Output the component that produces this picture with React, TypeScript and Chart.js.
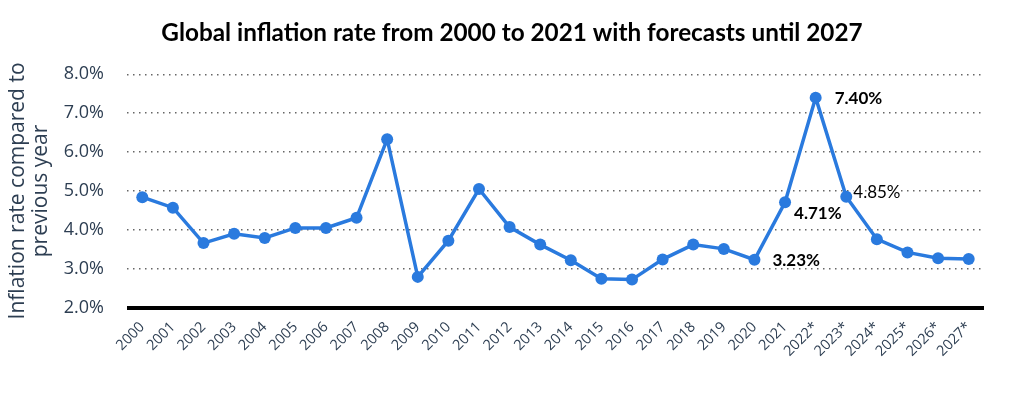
import React, { useEffect, useRef } from 'react';
import { Chart, registerables } from 'chart.js';

Chart.register(...registerables);

const TITLE = 'Global inflation rate from 2000 to 2021 with forecasts until 2027';
const Y_TITLE = ['Inflation rate compared to', 'previous year'];

const years = [
  '2000', '2001', '2002', '2003', '2004', '2005', '2006', '2007', '2008', '2009',
  '2010', '2011', '2012', '2013', '2014', '2015', '2016', '2017', '2018', '2019',
  '2020', '2021', '2022*', '2023*', '2024*', '2025*', '2026*', '2027*',
];

const inflation = [
  4.84, 4.57, 3.66, 3.9, 3.79, 4.05, 4.05, 4.31, 6.33, 2.79,
  3.72, 5.05, 4.07, 3.62, 3.22, 2.74, 2.72, 3.24, 3.62, 3.51,
  3.23, 4.71, 7.4, 4.85, 3.76, 3.42, 3.27, 3.25,
];

const yMin = 2;
const yMax = 8;
const yStep = 1;

// indices of points that carry a value label
const labeledIdx = [20, 21, 22, 23];

// label styling (offsets from the point, weight)
const labelStyle: Record<number, { dx: number; dy: number; bold: boolean }> = {
  20: { dx: 18, dy: 1, bold: true },
  21: { dx: 9, dy: 11, bold: true },
  22: { dx: 19, dy: 1, bold: true },
  23: { dx: 7, dy: -4, bold: false },
};

const LINE_COLOR = '#2a7ade';
const TEXT_COLOR = '#2d3e52';

const valueLabels = {
  id: 'valueLabels',
  afterDatasetsDraw(chart: any) {
    const meta = chart.getDatasetMeta(0);
    const ctx = chart.ctx;
    ctx.save();
    ctx.textAlign = 'left';
    ctx.textBaseline = 'middle';
    labeledIdx.forEach((i) => {
      const el = meta.data[i];
      if (!el) return;
      const st = labelStyle[i];
      const text = inflation[i].toFixed(2) + '%';
      ctx.font = `${st.bold ? 'bold ' : ''}17px Lato`;
      const x = el.x + st.dx;
      const y = el.y + st.dy;
      if (!st.bold) {
        ctx.lineWidth = 3;
        ctx.strokeStyle = 'rgba(255,255,255,0.9)';
        ctx.strokeText(text, x, y);
      }
      ctx.fillStyle = '#000';
      ctx.fillText(text, x, y);
    });
    ctx.restore();
  },
};

// page-centred chart title
const pageTitle = {
  id: 'pageTitle',
  afterDraw(chart: any) {
    const ctx = chart.ctx;
    ctx.save();
    ctx.font = 'bold 24.3px Lato';
    ctx.fillStyle = '#000';
    ctx.textAlign = 'center';
    ctx.textBaseline = 'middle';
    ctx.fillText(TITLE, chart.width / 2, 33);
    ctx.restore();
  },
};

export default function App() {
  const ref = useRef<HTMLCanvasElement | null>(null);

  useEffect(() => {
    if (!ref.current) return;
    const chart = new Chart(ref.current, {
      type: 'line',
      data: {
        labels: years,
        datasets: [
          {
            data: inflation,
            borderColor: LINE_COLOR,
            backgroundColor: LINE_COLOR,
            borderWidth: 3.5,
            pointRadius: 6,
            pointHoverRadius: 6,
            pointBackgroundColor: LINE_COLOR,
            pointBorderColor: LINE_COLOR,
            pointBorderWidth: 0,
            tension: 0,
          },
        ],
      },
      plugins: [valueLabels, pageTitle],
      options: {
        animation: false,
        responsive: true,
        maintainAspectRatio: false,
        layout: { padding: { left: 0, right: 40, top: 74.3, bottom: 0 } },
        plugins: {
          legend: { display: false },
          tooltip: { enabled: false },
          title: { display: false },
        },
        scales: {
          x: {
            offset: true,
            grid: { display: false, drawTicks: false },
            border: { display: false },
            ticks: {
              autoSkip: false,
              minRotation: 45,
              maxRotation: 45,
              padding: 11,
              color: TEXT_COLOR,
              font: { family: 'Open Sans', size: 14.5 },
            },
            afterFit: (scale: any) => {
              scale.height = 85.4;
            },
          },
          y: {
            min: yMin,
            max: yMax,
            ticks: {
              stepSize: yStep,
              padding: 23,
              color: TEXT_COLOR,
              font: { family: 'Open Sans', size: 18 },
              callback: (v: any) => Number(v).toFixed(1) + '%',
            },
            grid: {
              drawTicks: false,
              color: (c: any) => (c.tick && c.tick.value === yMin ? '#000' : '#666'),
              lineWidth: (c: any) => (c.tick && c.tick.value === yMin ? 4 : 1.5),
            },
            border: {
              display: false,
              dash: (c: any) => (c.tick && c.tick.value === yMin ? [] : [1.5, 4.5]),
            },
            title: {
              display: true,
              text: Y_TITLE,
              color: TEXT_COLOR,
              font: { family: 'Open Sans', size: 21, lineHeight: 1.1 },
              padding: { top: 6.5, bottom: 0 },
            },
            afterFit: (scale: any) => {
              scale.width = 127;
            },
          },
        },
      },
    } as any);
    return () => chart.destroy();
  }, []);

  return (
    <div style={{ position: 'absolute', left: 0, top: 0, width: 1024, height: 393, background: '#fff' }}>
      <canvas ref={ref} />
    </div>
  );
}
